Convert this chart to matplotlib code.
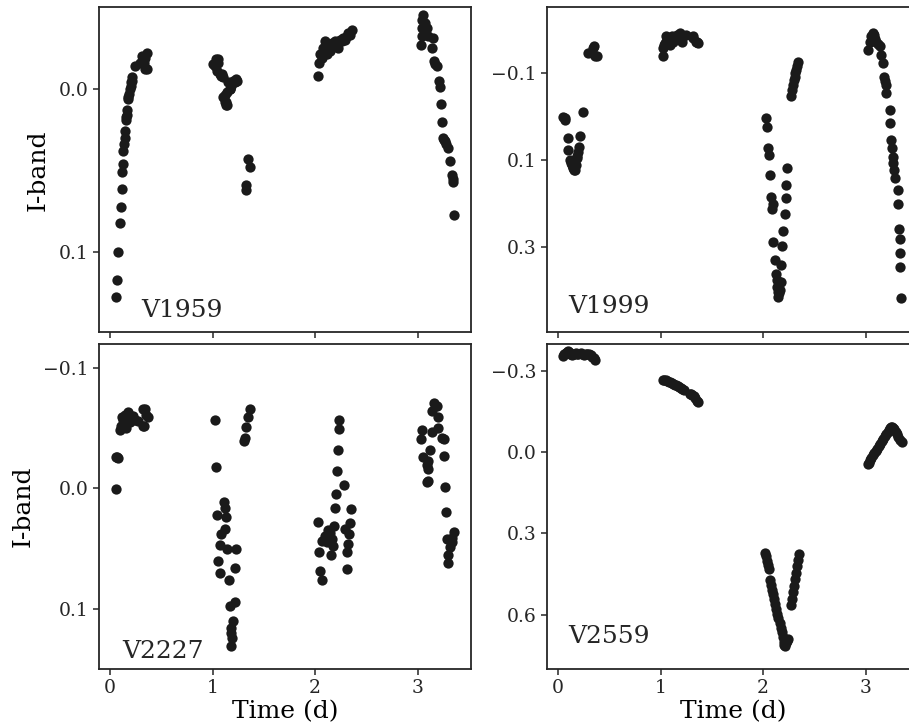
import matplotlib
matplotlib.use("Agg")
import matplotlib.pyplot as plt

# Light curves (time in days, I-band magnitude offset)
t_v1959 = [0.062, 0.071, 0.081, 0.101, 0.107, 0.114, 0.120, 0.126, 0.130, 0.136, 0.142, 0.149,
           0.156, 0.160, 0.163, 0.169, 0.175, 0.180, 0.185, 0.195, 0.200, 0.205, 0.212, 0.218,
           0.247, 0.290, 0.312, 0.331, 0.340, 0.357, 0.364, 0.345,
           1.007, 1.027, 1.036, 1.046, 1.053, 1.056, 1.069, 1.085, 1.088, 1.098, 1.105, 1.117,
           1.121, 1.128, 1.134, 1.137, 1.143, 1.150, 1.166, 1.170, 1.183, 1.202, 1.215, 1.231,
           1.235, 1.323, 1.329, 1.345, 1.361,
           2.030, 2.037, 2.047, 2.063, 2.079, 2.096, 2.112, 2.128, 2.144, 2.161, 2.193, 2.226,
           2.242, 2.274, 2.307, 2.323, 2.339, 2.356, 2.180, 2.210, 2.260, 2.290,
           3.031, 3.038, 3.038, 3.044, 3.054, 3.070, 3.087, 3.103, 3.135, 3.151, 3.161, 3.170,
           3.184, 3.207, 3.216, 3.226, 3.239, 3.249, 3.255, 3.265, 3.280, 3.297, 3.314, 3.330,
           3.340, 3.346, 3.356]
mag_v1959 = [0.127, 0.117, 0.100, 0.082, 0.072, 0.061, 0.051, 0.046, 0.038, 0.034, 0.030, 0.026,
             0.019, 0.017, 0.016, 0.013, 0.006, 0.005, 0.003, 0.000, -0.002, -0.004, -0.005, -0.007,
             -0.014, -0.016, -0.020, -0.016, -0.012, -0.012, -0.022, -0.019,
             -0.015, -0.014, -0.018, -0.011, -0.016, -0.018, -0.009, -0.008, -0.009, 0.005, -0.007, 0.004,
             0.008, 0.010, 0.008, 0.010, 0.002, -0.004, 0.000, 0.000, -0.002, -0.005, -0.004, -0.006,
             -0.005, 0.062, 0.059, 0.043, 0.048,
             -0.008, -0.016, -0.021, -0.019, -0.025, -0.029, -0.021, -0.026, -0.023, -0.028, -0.029, -0.025,
             -0.030, -0.031, -0.032, -0.034, -0.033, -0.036, -0.027, -0.028, -0.029, -0.030,
             -0.027, -0.042, -0.037, -0.032, -0.045, -0.040, -0.037, -0.032, -0.025, -0.031, -0.017, -0.015,
             -0.014, -0.005, -0.001, 0.009, 0.020, 0.030, 0.031, 0.032, 0.034, 0.036, 0.044, 0.053,
             0.055, 0.057, 0.077]

t_v1999 = [0.052, 0.065, 0.068, 0.247, 0.095, 0.215, 0.101, 0.205, 0.199, 0.190, 0.182, 0.117,
           0.125, 0.134, 0.142, 0.150, 0.158, 0.166, 0.174, 0.134,
           0.296, 0.328, 0.345, 0.348, 0.358, 0.377,
           1.020, 1.024, 1.030, 1.043, 1.056, 1.059, 1.092, 1.108, 1.125, 1.157, 1.186, 1.189,
           1.206, 1.222, 1.251, 1.316, 1.320, 1.349, 1.352, 1.368, 1.075, 1.140,
           2.031, 2.037, 2.047, 2.054, 2.070, 2.080, 2.089, 2.096, 2.096, 2.112, 2.122, 2.135,
           2.140, 2.144, 2.144, 2.152, 2.161, 2.177, 2.177, 2.187, 2.193, 2.213, 2.219, 2.226, 2.232,
           2.275, 2.281, 2.290, 2.300, 2.307, 2.315, 2.323, 2.331, 2.339,
           3.022, 3.038, 3.054, 3.071, 3.080, 3.090, 3.103, 3.120, 3.135, 3.152, 3.168, 3.174,
           3.185, 3.194, 3.201, 3.233, 3.240, 3.250, 3.259, 3.265, 3.270, 3.275, 3.282, 3.314,
           3.314, 3.324, 3.330, 3.330, 3.337, 3.347]
mag_v1999 = [0.001, 0.003, 0.008, -0.009, 0.050, 0.045, 0.077, 0.070, 0.081, 0.090, 0.096, 0.100,
             0.106, 0.112, 0.116, 0.119, 0.122, 0.123, 0.112, 0.104,
             -0.144, -0.144, -0.156, -0.160, -0.137, -0.137,
             -0.156, -0.138, -0.163, -0.167, -0.183, -0.178, -0.164, -0.183, -0.171, -0.187, -0.190, -0.188,
             -0.171, -0.183, -0.187, -0.183, -0.180, -0.169, -0.171, -0.168, -0.175, -0.180,
             0.005, 0.024, 0.073, 0.089, 0.135, 0.184, 0.213, 0.202, 0.288, 0.330, 0.360, 0.376,
             0.390, 0.402, 0.414, 0.405, 0.398, 0.379, 0.340, 0.297, 0.263, 0.223, 0.186, 0.158, 0.119,
             -0.047, -0.060, -0.072, -0.084, -0.091, -0.100, -0.106, -0.115, -0.124,
             -0.152, -0.171, -0.183, -0.190, -0.186, -0.178, -0.171, -0.165, -0.160, -0.141, -0.122, -0.091,
             -0.080, -0.072, -0.053, -0.014, 0.016, 0.054, 0.073, 0.093, 0.108, 0.123, 0.142, 0.169,
             0.200, 0.257, 0.280, 0.314, 0.345, 0.416]

t_v2227 = [0.055, 0.062, 0.065, 0.078, 0.094, 0.110, 0.127, 0.143, 0.159, 0.175, 0.192, 0.208,
           0.240, 0.273, 0.325, 0.325, 0.331, 0.338, 0.354, 0.370, 0.120, 0.150, 0.225,
           1.027, 1.036, 1.111, 1.118, 1.046, 1.134, 1.118, 1.085, 1.069, 1.143, 1.231, 1.053,
           1.069, 1.221, 1.157, 1.215, 1.166, 1.199, 1.183, 1.176, 1.189, 1.183, 1.361, 1.345,
           1.329, 1.313, 1.306,
           2.232, 2.232, 2.219, 2.209, 2.284, 2.203, 2.193, 2.349, 2.031, 2.186, 2.128, 2.339,
           2.290, 2.329, 2.096, 2.161, 2.070, 2.177, 2.317, 2.037, 2.154, 2.307, 2.047, 2.063,
           2.307, 2.112, 2.144,
           3.161, 3.184, 3.135, 3.194, 3.038, 3.135, 3.200, 3.031, 3.233, 3.258, 3.119, 3.054,
           3.096, 3.087, 3.103, 3.258, 3.096, 3.087, 3.265, 3.272, 3.356, 3.281, 3.330, 3.314,
           3.297, 3.291, 3.330]
mag_v2227 = [0.001, -0.026, -0.026, -0.0255, -0.048, -0.052, -0.057, -0.061, -0.050, -0.063, -0.055, -0.060,
             -0.057, -0.056, -0.066, -0.052, -0.052, -0.066, -0.061, -0.059, -0.059, -0.058, -0.060,
             -0.057, -0.018, 0.011, 0.016, 0.022, 0.024, 0.034, 0.038, 0.047, 0.050, 0.050, 0.060,
             0.070, 0.066, 0.076, 0.094, 0.098, 0.110, 0.116, 0.120, 0.124, 0.131, -0.066, -0.059,
             -0.051, -0.042, -0.039,
             -0.057, -0.049, -0.032, -0.014, -0.003, 0.005, 0.016, 0.017, 0.028, 0.031, 0.035, 0.029,
             0.034, 0.038, 0.040, 0.042, 0.044, 0.048, 0.046, 0.053, 0.055, 0.053, 0.069, 0.076,
             0.067, 0.045, 0.037,
             -0.071, -0.068, -0.064, -0.059, -0.048, -0.047, -0.050, -0.041, -0.042, -0.041, -0.032, -0.026,
             -0.023, -0.019, -0.016, -0.027, -0.006, -0.005, -0.001, 0.020, 0.036, 0.042, 0.045, 0.049,
             0.055, 0.062, 0.041]

t_v2559 = [0.05, 0.06, 0.08, 0.09, 0.10, 0.11, 0.12, 0.14, 0.15, 0.16, 0.18, 0.19,
           0.20, 0.22, 0.23, 0.25, 0.27, 0.28, 0.30, 0.32, 0.33, 0.35, 0.36,
           1.02, 1.03, 1.05, 1.06, 1.08, 1.09, 1.11, 1.12, 1.14, 1.15, 1.17, 1.18,
           1.20, 1.21, 1.23, 1.29, 1.30, 1.31, 1.33, 1.34, 1.36, 1.37,
           2.02, 2.03, 2.04, 2.05, 2.06,
           2.070, 2.080, 2.090, 2.100, 2.110, 2.120, 2.130, 2.140, 2.150, 2.160, 2.170, 2.180,
           2.190, 2.200, 2.205, 2.210, 2.22, 2.23, 2.24,
           2.270, 2.280, 2.290, 2.300, 2.310, 2.320, 2.330, 2.340, 2.350,
           3.02, 3.03, 3.04, 3.05, 3.07, 3.08, 3.10, 3.11, 3.13, 3.14, 3.16, 3.17,
           3.19, 3.20, 3.22, 3.23, 3.24, 3.25, 3.26, 3.27, 3.28, 3.30, 3.31, 3.32, 3.33, 3.35]
mag_v2559 = [-0.355, -0.360, -0.366, -0.370, -0.372, -0.368, -0.362, -0.358, -0.360, -0.363, -0.365, -0.362,
             -0.360, -0.364, -0.362, -0.358, -0.360, -0.363, -0.362, -0.358, -0.352, -0.346, -0.340,
             -0.264, -0.266, -0.265, -0.263, -0.260, -0.258, -0.255, -0.252, -0.248, -0.246, -0.242, -0.240,
             -0.236, -0.233, -0.230, -0.216, -0.214, -0.210, -0.205, -0.198, -0.190, -0.183,
             0.372, 0.385, 0.400, 0.415, 0.430,
             0.472, 0.490, 0.508, 0.525, 0.543, 0.560, 0.578, 0.596, 0.613, 0.630, 0.648, 0.665,
             0.683, 0.700, 0.710, 0.715, 0.705, 0.697, 0.688,
             0.565, 0.540, 0.515, 0.492, 0.468, 0.445, 0.420, 0.398, 0.375,
             0.045, 0.040, 0.030, 0.022, 0.012, 0.004, -0.005, -0.012, -0.022, -0.030, -0.040, -0.047,
             -0.058, -0.066, -0.075, -0.082, -0.088, -0.092, -0.094, -0.090, -0.084, -0.074, -0.065, -0.055,
             -0.046, -0.037]

names = ["V1959", "V1999", "V2227", "V2559"]
times = [t_v1959, t_v1999, t_v2227, t_v2559]
mags = [mag_v1959, mag_v1999, mag_v2227, mag_v2559]
yticks = [[0.0, 0.1], [-0.1, 0.1, 0.3], [-0.1, 0.0, 0.1], [-0.3, 0.0, 0.3, 0.6]]
ylims = [(0.149, -0.050), (0.495, -0.250), (0.150, -0.120), (0.80, -0.40)]

plt.rcParams["font.family"] = ["DejaVu Serif"]
plt.rcParams["text.color"] = "#262626"
plt.rcParams["axes.edgecolor"] = "#262626"
plt.rcParams["xtick.color"] = "#262626"
plt.rcParams["ytick.color"] = "#262626"

fig = plt.figure(figsize=(9.09, 7.28), dpi=100)

# axes placed by hand; the right column runs past the figure edge like the original
w, h = 0.4096, 0.447
positions = [[0.1086, 0.5433, w, h], [0.6014, 0.5433, w, h],
             [0.1086, 0.0810, w, h], [0.6014, 0.0810, w, h]]
label_pos = [(0.115, 0.048), (0.058, 0.059), (0.062, 0.033), (0.058, 0.081)]

for i in range(4):
    ax = fig.add_axes(positions[i])
    ax.scatter(times[i], mags[i], s=55, color="#1a1a1a", linewidths=0)
    ax.set_xlim(-0.11, 3.52)
    ax.set_ylim(*ylims[i])
    ax.set_xticks([0, 1, 2, 3])
    ax.set_yticks(yticks[i])
    ax.tick_params(direction="out", length=4, width=1.1, labelsize=13.5)
    for sp in ax.spines.values():
        sp.set_linewidth(1.3)
    if i < 2:
        ax.set_xticklabels([])
    else:
        ax.set_xlabel("Time (d)", fontsize=18, labelpad=2)
    if i % 2 == 0:
        ax.set_ylabel("I-band", fontsize=18, labelpad=6)
    ax.text(label_pos[i][0], label_pos[i][1], names[i], transform=ax.transAxes,
            fontsize=18, va="baseline", ha="left")

fig.savefig("out.png", dpi=100)
